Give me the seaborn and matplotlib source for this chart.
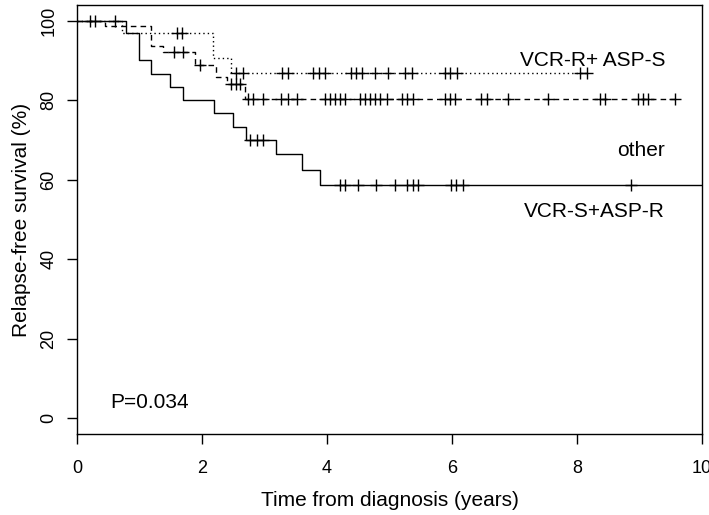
import matplotlib
matplotlib.use("Agg")
import matplotlib.pyplot as plt
import seaborn as sns
import numpy as np
import pandas as pd

# Kaplan-Meier curves (time in years, survival in %)
# VCR-R + ASP-S (dotted)
rs_times = [0, 0.715, 2.18, 2.47, 8.16]
rs_surv = [100, 97.0, 90.7, 86.9, 86.9]
rs_cens = [0.61, 1.60, 1.68, 2.55, 2.66, 3.28, 3.38, 3.78, 3.87, 3.96, 4.39, 4.47,
           4.56, 4.77, 4.98, 5.25, 5.36, 5.89, 5.97, 6.08, 8.05, 8.16]

# other (dashed)
ot_times = [0, 0.44, 1.19, 1.38, 1.89, 2.22, 2.40, 2.69, 9.6]
ot_surv = [100, 98.6, 93.6, 92.2, 89.0, 86.0, 84.2, 80.4, 80.4]
ot_cens = [0.21, 0.29, 1.55, 1.70, 1.97, 2.47, 2.55, 2.61, 2.74, 2.82, 2.98, 3.27,
           3.38, 3.52, 3.97, 4.05, 4.13, 4.21, 4.29, 4.53, 4.61, 4.69, 4.77, 4.85,
           4.955, 5.195, 5.275, 5.38, 5.89, 5.97, 6.05, 6.47, 6.555, 6.90, 7.54,
           8.37, 8.45, 8.98, 9.06, 9.14, 9.57]

# VCR-S + ASP-R (solid)
sr_times = [0, 0.79, 0.99, 1.19, 1.49, 1.70, 2.19, 2.49, 2.70, 3.18, 3.595, 3.89, 10.5]
sr_surv = [100, 97.0, 90.2, 86.7, 83.3, 80.0, 76.7, 73.4, 70.1, 66.5, 62.4, 58.6, 58.6]
sr_cens = [2.77, 2.875, 2.97, 4.20, 4.28, 4.49, 4.78, 5.09, 5.28, 5.38, 5.46,
           5.98, 6.06, 6.17, 8.86]

x_ticks = [0, 2, 4, 6, 8, 10]
y_ticks = [0, 20, 40, 60, 80, 100]

sns.set_style("ticks")
plt.rcParams['font.family'] = ['Liberation Sans', 'DejaVu Sans']
plt.rcParams['text.color'] = 'black'
plt.rcParams['axes.labelcolor'] = 'black'
plt.rcParams['xtick.color'] = 'black'
plt.rcParams['ytick.color'] = 'black'

fig = plt.figure(figsize=(7.09, 5.15), dpi=100)
ax = fig.add_axes([77 / 709, 1 - 434 / 515, 625 / 709, 429 / 515])


def surv_at(times, surv, t):
    idx = np.searchsorted(times, t, side="right") - 1
    return np.asarray(surv)[idx]


groups = [
    (rs_times, rs_surv, rs_cens, (0, (1, 2.2))),
    (ot_times, ot_surv, ot_cens, (0, (4, 3))),
    (sr_times, sr_surv, sr_cens, "-"),
]

for times, surv, cens, ls in groups:
    df = pd.DataFrame({"time": times, "surv": surv})
    sns.lineplot(data=df, x="time", y="surv", ax=ax, drawstyle="steps-post",
                 estimator=None, color="black", linewidth=1.0, linestyle=ls)
    cdf = pd.DataFrame({"time": cens, "surv": surv_at(times, surv, cens)})
    sns.scatterplot(data=cdf, x="time", y="surv", ax=ax, marker="+", s=70,
                    color="black", linewidth=1.0, zorder=3)

ax.set_xlim(0, 10)
ax.set_ylim(-4, 104)
ax.set_xticks(x_ticks)
ax.set_yticks(y_ticks)
ax.set_xticklabels([str(v) for v in x_ticks], fontsize=13)
ax.set_yticklabels([str(v) for v in y_ticks], fontsize=13, rotation=90, va="center")
ax.tick_params(axis="both", length=7, width=1, color="black", direction="out",
               labelcolor="black")
ax.tick_params(axis="x", pad=12)
ax.tick_params(axis="y", pad=7)
for sp in ax.spines.values():
    sp.set_visible(True)
    sp.set_linewidth(1.0)
    sp.set_color("black")

ax.set_xlabel("Time from diagnosis (years)", fontsize=15, labelpad=10)
ax.set_ylabel("Relapse-free survival (%)", fontsize=15, labelpad=7)

ax.text(9.41, 90.0, "VCR-R+ ASP-S", fontsize=15, ha="right", va="center")
ax.text(9.41, 67.4, "other", fontsize=15, ha="right", va="center")
ax.text(9.41, 52.0, "VCR-S+ASP-R", fontsize=15, ha="right", va="center")
ax.text(0.53, 4.0, "P=0.034", fontsize=15, ha="left", va="center")

fig.savefig("out.png", dpi=100)
